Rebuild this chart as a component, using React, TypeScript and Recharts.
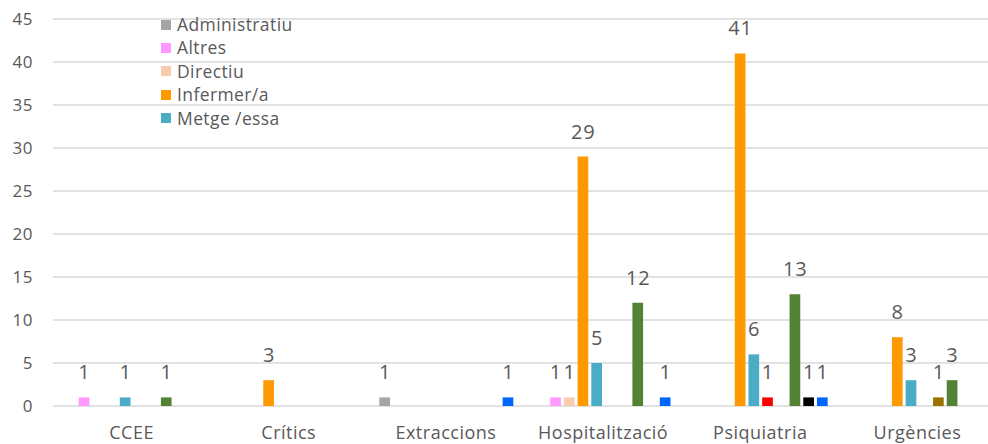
import React from 'react';
import { BarChart, Bar, XAxis, YAxis, CartesianGrid, LabelList } from 'recharts';

const categories = ['CCEE', 'Crítics', 'Extraccions', 'Hospitalització', 'Psiquiatria', 'Urgències'];
const seriesNames = ['Administratiu', 'Altres', 'Directiu', 'Infermer/a', 'Metge /essa', 'Seguretat', 'TCAI', 'Tècnic/a', 'Treballador/a social', 'Zelador/a'];
const seriesColors = ['#a5a5a5', '#ff99ff', '#f8cbad', '#ff9900', '#4bacc6', '#ff0000', '#997300', '#548235', '#000000', '#0066ff'];

const administratiu = [null, null, 1, null, null, null];
const altres = [1, null, null, 1, null, null];
const directiu = [null, null, null, 1, null, null];
const infermer = [null, 3, null, 29, 41, 8];
const metge = [1, null, null, 5, 6, 3];
const seguretat = [null, null, null, null, 1, null];
const tcai = [null, null, null, null, null, 1];
const tecnic = [1, null, null, 12, 13, 3];
const treballador = [null, null, null, null, 1, null];
const zelador = [null, null, 1, 1, 1, null];

const seriesValues = [administratiu, altres, directiu, infermer, metge, seguretat, tcai, tecnic, treballador, zelador];
const yTicks = [0, 5, 10, 15, 20, 25, 30, 35, 40, 45];
const legendShown = 5;

const data = categories.map((c, i) => {
  const row: any = { category: c };
  seriesValues.forEach((vals, s) => {
    row['s' + s] = vals[i];
  });
  return row;
});

const FONT = '"Open Sans", sans-serif';
const TEXT = '#595959';

const renderLabel = (props: any) => {
  const { x, y, width, value } = props;
  if (value === null || value === undefined || value === 0) return null;
  return (
    <text
      x={Number(x) + Number(width) / 2 + 0.4}
      y={Number(y) - 18}
      textAnchor="middle"
      fill={TEXT}
      fontSize={20}
      fontFamily={FONT}
      style={{ letterSpacing: 0.8 }}
    >
      {value}
    </text>
  );
};

export default function App() {
  return (
    <div style={{ position: 'absolute', left: 0, top: 0, width: 988, height: 444, overflow: 'hidden', background: '#fff' }}>
      <BarChart
        width={1010}
        height={444}
        data={data}
        margin={{ top: 19, right: 14, bottom: 0, left: 0 }}
        barSize={10.7}
        barGap={3}
      >
        <CartesianGrid vertical={false} stroke="#d9d9d9" strokeWidth={1.5} />
        <XAxis
          dataKey="category"
          axisLine={false}
          tickLine={false}
          tickSize={0}
          tickMargin={20}
          height={38}
          interval={0}
          tick={{ fontSize: 18, fill: TEXT, fontFamily: FONT, style: { letterSpacing: 0.5 } } as any}
        />
        <YAxis
          domain={[0, 45]}
          ticks={yTicks}
          interval={0}
          width={53}
          axisLine={false}
          tickLine={false}
          tickSize={0}
          tickMargin={20}
          tick={{ fontSize: 17, fill: TEXT, fontFamily: FONT, style: { letterSpacing: 0.5 } } as any}
        />
        {seriesNames.map((name, s) => (
          <Bar key={name} dataKey={'s' + s} name={name} fill={seriesColors[s]} isAnimationActive={false}>
            <LabelList dataKey={'s' + s} content={renderLabel} />
          </Bar>
        ))}
      </BarChart>
      <div style={{ position: 'absolute', left: 161, top: 13, fontFamily: FONT, fontSize: 17.5, letterSpacing: 0.4, color: TEXT }}>
        {seriesNames.slice(0, legendShown).map((name, i) => (
          <div key={name} style={{ display: 'flex', alignItems: 'center', height: 23.4 }}>
            <span style={{ display: 'inline-block', width: 10, height: 10, background: seriesColors[i], marginRight: 6 }} />
            <span style={{ lineHeight: '23.4px' }}>{name}</span>
          </div>
        ))}
      </div>
    </div>
  );
}
